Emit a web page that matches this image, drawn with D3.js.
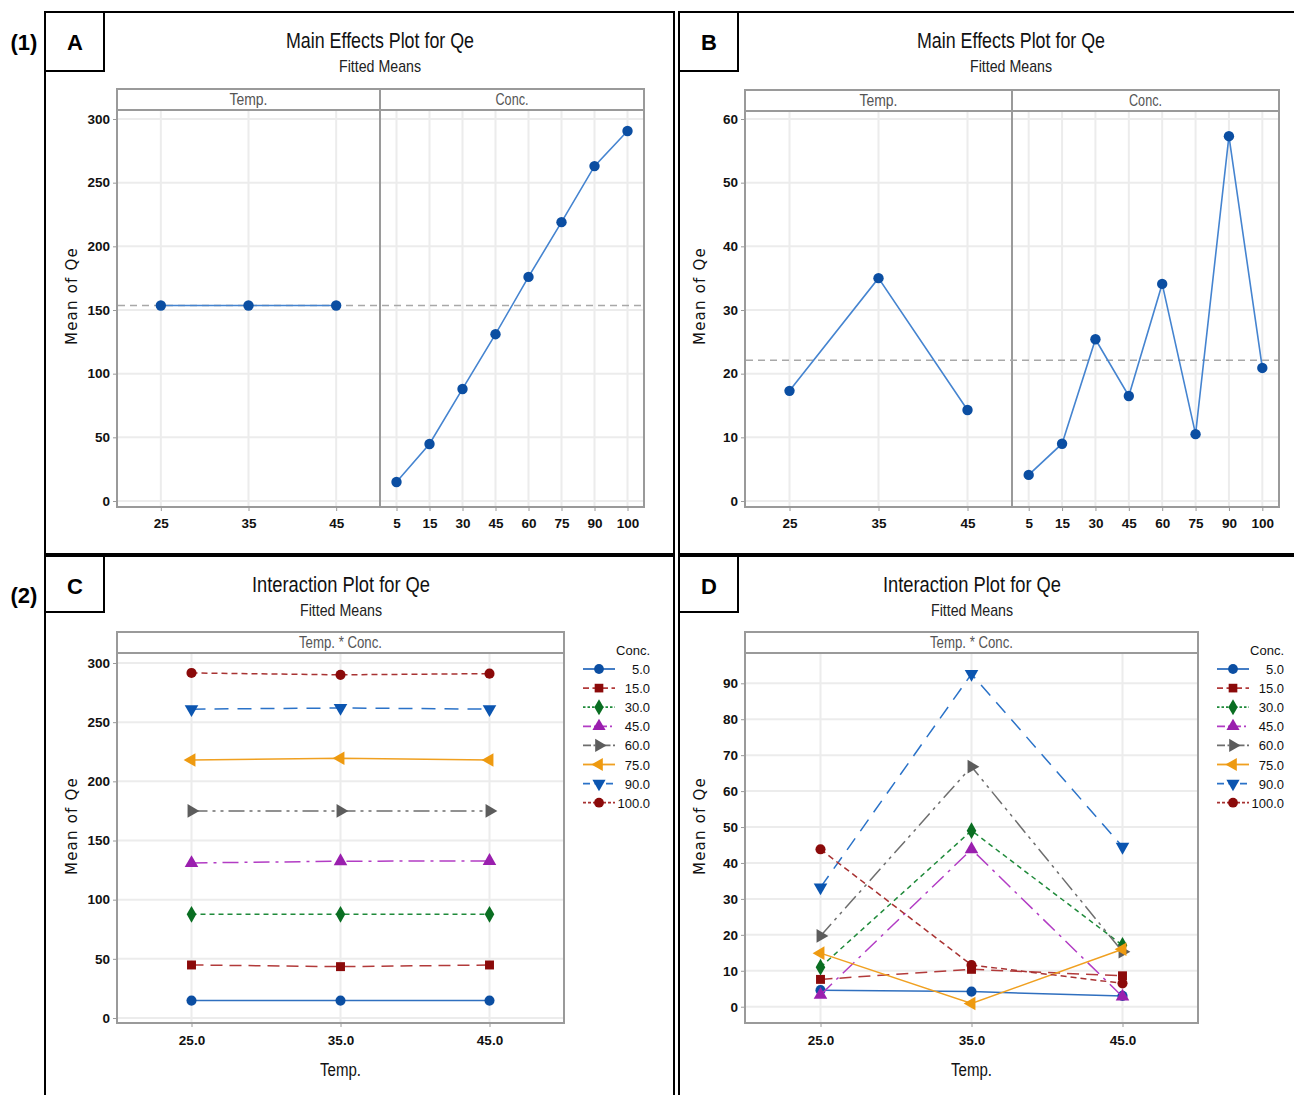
<!DOCTYPE html>
<html>
<head>
<meta charset="utf-8">
<script src="https://cdn.jsdelivr.net/npm/d3@7"></script>
<style>
  body { margin: 0; background: #fff; }
  svg { display: block; }
  .narrow { font-family: "Liberation Sans Narrow", "Arial Narrow", "Liberation Sans", sans-serif; }
</style>
</head>
<body>
<div id="chart"></div>
<script>
// ---- data ----
const tempLevels = ["25", "35", "45"];
const concLevels = ["5", "15", "30", "45", "60", "75", "90", "100"];

// panel A: main effects, whole range
const mainATemp = [153.5, 153.5, 153.5];
const mainAConc = [14.9, 44.8, 88.0, 131.0, 176.0, 219.0, 263.0, 290.6];
const meanA = 153.5;

// panel B: main effects
const mainBTemp = [17.3, 35.0, 14.3];
const mainBConc = [4.1, 9.0, 25.4, 16.5, 34.1, 10.5, 57.3, 20.9];
const meanB = 22.1;

// interaction plots
const interTemps = ["25.0", "35.0", "45.0"];
const concLabels = ["5.0", "15.0", "30.0", "45.0", "60.0", "75.0", "90.0", "100.0"];
const interC = [
  [14.7, 14.7, 14.7],
  [44.8, 43.4, 44.8],
  [87.6, 87.6, 87.6],
  [131.0, 132.5, 132.7],
  [175.0, 175.0, 175.0],
  [218.0, 219.5, 218.0],
  [261.0, 262.0, 261.0],
  [291.6, 290.0, 291.0]
];
const interD = [
  [4.6, 4.2, 3.0],
  [7.6, 10.4, 8.6],
  [11.0, 49.0, 17.1],
  [3.3, 43.8, 2.8],
  [19.7, 66.8, 15.3],
  [14.9, 0.9, 16.0],
  [33.2, 92.6, 44.5],
  [43.8, 11.6, 6.5]
];

// series styling (Minitab-like)
const seriesStyle = [
  { line: "#2f6fbf", fill: "#0b4ea2", dash: null, sym: "circle", rot: 0 },
  { line: "#b23a3a", fill: "#8b0a0a", dash: "12,7", sym: "square", rot: 0 },
  { line: "#1f8a3a", fill: "#0a6e22", dash: "5,4", sym: "diamond", rot: 0 },
  { line: "#b23cc4", fill: "#9a1fae", dash: "16,6,3,6", sym: "triangle", rot: 0 },
  { line: "#6e6e6e", fill: "#5c5c5c", dash: "16,5,3,5,3,5", sym: "triangle", rot: 90 },
  { line: "#f0a020", fill: "#ee9a10", dash: null, sym: "triangle", rot: -90 },
  { line: "#2a72c8", fill: "#0b55b0", dash: "14,9", sym: "triangle", rot: 180 },
  { line: "#a83232", fill: "#8b0a0a", dash: "6,4", sym: "circle", rot: 0 }
];

const W = 1294, H = 1095;
const svg = d3.select("#chart").append("svg")
  .attr("width", W).attr("height", H);

const gridColor = "#ececec";
const frameColor = "#9a9a9a";
const symTypes = { circle: d3.symbolCircle, square: d3.symbolSquare, diamond: d3.symbolDiamond, triangle: d3.symbolTriangle };

function marker(g, s, x, y, size) {
  g.append("path")
    .attr("d", d3.symbol().type(symTypes[s.sym]).size(size)())
    .attr("transform", `translate(${x},${y}) rotate(${s.rot})`)
    .attr("fill", s.fill);
}

// squeeze text to the narrow width seen in the figure
function squeeze(sel, len) {
  return sel.attr("textLength", len).attr("lengthAdjust", "spacingAndGlyphs");
}

// ---- outer panel frames and letters ----
const panels = [
  { x: 45, y: 12, w: 629, h: 542, letter: "A" },
  { x: 679, y: 12, w: 620, h: 542, letter: "B" },
  { x: 45, y: 556, w: 629, h: 545, letter: "C" },
  { x: 679, y: 556, w: 620, h: 545, letter: "D" }
];
panels.forEach(p => {
  svg.append("rect").attr("x", p.x).attr("y", p.y).attr("width", p.w).attr("height", p.h)
    .attr("fill", "none").attr("stroke", "#000").attr("stroke-width", 2);
  svg.append("rect").attr("x", p.x).attr("y", p.y).attr("width", 59).attr("height", p.letter < "C" ? 59 : 56)
    .attr("fill", "#fff").attr("stroke", "#000").attr("stroke-width", 2);
  svg.append("text").attr("x", p.x + 30).attr("y", p.y + 38)
    .attr("text-anchor", "middle").attr("font-family", "Liberation Sans, Arial, sans-serif")
    .attr("font-weight", "bold").attr("font-size", 22).text(p.letter);
});
svg.append("text").attr("x", 24).attr("y", 50).attr("text-anchor", "middle")
  .attr("font-family", "Liberation Sans, Arial, sans-serif").attr("font-weight", "bold").attr("font-size", 22).text("(1)");
svg.append("text").attr("x", 24).attr("y", 603).attr("text-anchor", "middle")
  .attr("font-family", "Liberation Sans, Arial, sans-serif").attr("font-weight", "bold").attr("font-size", 22).text("(2)");

function titles(cx, ty, main, mainLen) {
  squeeze(svg.append("text").attr("class", "narrow").attr("x", cx).attr("y", ty)
    .attr("text-anchor", "middle").attr("font-size", 22).attr("fill", "#111").text(main), mainLen);
  squeeze(svg.append("text").attr("class", "narrow").attr("x", cx).attr("y", ty + 24)
    .attr("text-anchor", "middle").attr("font-size", 17).attr("fill", "#222").text("Fitted Means"), 82);
}

function yAxisBlock(g, y, ticks, left, right, titleX, titleY) {
  // horizontal gridlines
  g.selectAll(null).data(ticks).enter().append("line")
    .attr("x1", left + 1).attr("x2", right - 1)
    .attr("y1", d => y(d)).attr("y2", d => y(d))
    .attr("stroke", gridColor).attr("stroke-width", 2);
  const ax = g.append("g").attr("transform", `translate(${left},0)`)
    .call(d3.axisLeft(y).tickValues(ticks).tickSize(4).tickPadding(3));
  ax.select(".domain").remove();
  ax.selectAll(".tick line").attr("stroke", frameColor);
  ax.selectAll(".tick text").attr("class", "narrow").attr("font-size", 13.5)
    .attr("font-weight", "bold").attr("fill", "#111");
  g.append("text").attr("transform", `translate(${titleX},${titleY}) rotate(-90)`)
    .attr("text-anchor", "middle").attr("font-family", "DejaVu Sans, sans-serif")
    .attr("font-size", 15).attr("letter-spacing", 1.2).attr("fill", "#111").text("Mean of Qe");
}

function xAxisBlock(g, x, top, bottom, labelY) {
  g.selectAll(null).data(x.domain()).enter().append("line")
    .attr("x1", d => x(d)).attr("x2", d => x(d))
    .attr("y1", top + 1).attr("y2", bottom - 1)
    .attr("stroke", gridColor).attr("stroke-width", 2);
  const ax = g.append("g").attr("transform", `translate(0,${bottom})`)
    .call(d3.axisBottom(x).tickSize(4).tickPadding(labelY - bottom - 10));
  ax.select(".domain").remove();
  ax.selectAll(".tick line").attr("stroke", frameColor);
  ax.selectAll(".tick text").attr("class", "narrow").attr("font-size", 13.5)
    .attr("font-weight", "bold").attr("fill", "#111");
}

function strip(g, x0, x1, top, bottom, label, len) {
  g.append("rect").attr("x", x0).attr("y", top).attr("width", x1 - x0).attr("height", bottom - top)
    .attr("fill", "#fff").attr("stroke", frameColor).attr("stroke-width", 2);
  squeeze(g.append("text").attr("class", "narrow").attr("x", (x0 + x1) / 2).attr("y", bottom - 5)
    .attr("text-anchor", "middle").attr("font-size", 16).attr("fill", "#555").text(label), len);
}

// ---- main effects panel ----
function mainEffects(cfg) {
  const g = svg.append("g");
  titles(cfg.cx, 48, "Main Effects Plot for Qe", 188);
  const y = d3.scaleLinear().domain(cfg.yDom).range(cfg.yRange);
  const xT = d3.scalePoint().domain(tempLevels).range([cfg.left, cfg.div]).padding(0.5);
  const xC = d3.scalePoint().domain(concLevels).range([cfg.div, cfg.right]).padding(0.5);

  yAxisBlock(g, y, cfg.ticks, cfg.left, cfg.right, cfg.left - 40, 296);
  xAxisBlock(g, xT, cfg.stripBottom, cfg.bottom, 524);
  xAxisBlock(g, xC, cfg.stripBottom, cfg.bottom, 524);

  // plot frame
  g.append("rect").attr("x", cfg.left).attr("y", cfg.stripBottom)
    .attr("width", cfg.right - cfg.left).attr("height", cfg.bottom - cfg.stripBottom)
    .attr("fill", "none").attr("stroke", frameColor).attr("stroke-width", 2);
  strip(g, cfg.left, cfg.div, cfg.stripTop, cfg.stripBottom, "Temp.", 38);
  strip(g, cfg.div, cfg.right, cfg.stripTop, cfg.stripBottom, "Conc.", 33);
  g.append("line").attr("x1", cfg.div).attr("x2", cfg.div)
    .attr("y1", cfg.stripTop).attr("y2", cfg.bottom).attr("stroke", frameColor).attr("stroke-width", 2);

  // overall mean reference line
  g.append("line").attr("x1", cfg.left + 1).attr("x2", cfg.right - 1)
    .attr("y1", y(cfg.mean)).attr("y2", y(cfg.mean))
    .attr("stroke", "#a8a8a8").attr("stroke-width", 1.5).attr("stroke-dasharray", "7,5");

  const s = seriesStyle[0];
  [[xT, tempLevels, cfg.temp], [xC, concLevels, cfg.conc]].forEach(([x, lv, vals]) => {
    const pts = lv.map((d, i) => [x(d), y(vals[i])]);
    g.append("path").attr("d", d3.line()(pts)).attr("fill", "none")
      .attr("stroke", "#4584d0").attr("stroke-width", 1.6);
    pts.forEach(p => marker(g, s, p[0], p[1], 85));
  });
}

mainEffects({
  cx: 380, left: 117, div: 380, right: 644, stripTop: 89, stripBottom: 110, bottom: 507,
  yDom: [0, 300], yRange: [501, 119], ticks: d3.range(0, 301, 50),
  temp: mainATemp, conc: mainAConc, mean: meanA
});
mainEffects({
  cx: 1011, left: 745, div: 1012, right: 1279, stripTop: 90, stripBottom: 111, bottom: 507,
  yDom: [0, 60], yRange: [501, 119], ticks: d3.range(0, 61, 10),
  temp: mainBTemp, conc: mainBConc, mean: meanB
});

// ---- interaction panel ----
function interaction(cfg) {
  const g = svg.append("g");
  titles(cfg.cx, 592, "Interaction Plot for Qe", 178);
  const y = d3.scaleLinear().domain(cfg.yDom).range(cfg.yRange);
  const x = d3.scalePoint().domain(interTemps).range([cfg.left, cfg.right]).padding(0.5);

  yAxisBlock(g, y, cfg.ticks, cfg.left, cfg.right, cfg.left - 40, 826);
  xAxisBlock(g, x, cfg.stripBottom, cfg.bottom, 1041);
  g.append("rect").attr("x", cfg.left).attr("y", cfg.stripBottom)
    .attr("width", cfg.right - cfg.left).attr("height", cfg.bottom - cfg.stripBottom)
    .attr("fill", "none").attr("stroke", frameColor).attr("stroke-width", 2);
  strip(g, cfg.left, cfg.right, 632, cfg.stripBottom, "Temp. * Conc.", 83);

  squeeze(g.append("text").attr("class", "narrow").attr("x", (cfg.left + cfg.right) / 2).attr("y", 1076)
    .attr("text-anchor", "middle").attr("font-size", 18).attr("fill", "#111").text("Temp."), 41);

  cfg.data.forEach((vals, k) => {
    const s = seriesStyle[k];
    const pts = interTemps.map((d, i) => [x(d), y(vals[i])]);
    g.append("path").attr("d", d3.line()(pts)).attr("fill", "none")
      .attr("stroke", s.line).attr("stroke-width", 1.5)
      .attr("stroke-dasharray", s.dash);
    pts.forEach(p => marker(g, s, p[0], p[1], 80));
  });

  // legend
  const lg = g.append("g");
  lg.append("text").attr("class", "narrow").attr("x", cfg.legX + 67).attr("y", 655)
    .attr("text-anchor", "end").attr("font-size", 13).attr("fill", "#111").text("Conc.");
  concLabels.forEach((lab, k) => {
    const s = seriesStyle[k];
    const ly = 669 + k * 19.1;
    lg.append("line").attr("x1", cfg.legX).attr("x2", cfg.legX + 32)
      .attr("y1", ly).attr("y2", ly).attr("stroke", s.line).attr("stroke-width", 1.8)
      .attr("stroke-dasharray", s.dash ? s.dash.split(",").map(v => Math.max(2, v * 0.5)).join(",") : null);
    marker(lg, s, cfg.legX + 16, ly, 75);
    lg.append("text").attr("class", "narrow").attr("x", cfg.legX + 67).attr("y", ly + 5)
      .attr("text-anchor", "end").attr("font-size", 13).attr("fill", "#111").text(lab);
  });
}

interaction({
  cx: 341, left: 117, right: 564, stripBottom: 653, bottom: 1023,
  yDom: [0, 300], yRange: [1018, 663], ticks: d3.range(0, 301, 50),
  data: interC, legX: 583
});
interaction({
  cx: 972, left: 745, right: 1198, stripBottom: 653, bottom: 1023,
  yDom: [0, 90], yRange: [1006.7, 683.3], ticks: d3.range(0, 91, 10),
  data: interD, legX: 1217
});
</script>
</body>
</html>
